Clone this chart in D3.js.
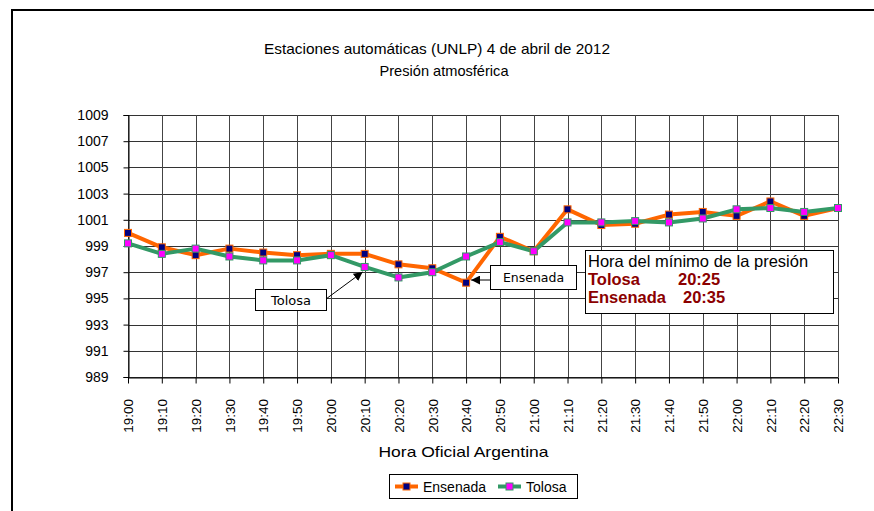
<!DOCTYPE html>
<html>
<head>
<meta charset="utf-8">
<script src="https://cdn.jsdelivr.net/npm/d3@7"></script>
<style>
body {margin:0; background:#fff;}
svg {display:block;}
text {font-family: "Liberation Sans", Arial, sans-serif;}
</style>
</head>
<body>
<div id="chart"></div>
<script>
var horas = ['19:00','19:10','19:20','19:30','19:40','19:50','20:00','20:10','20:20','20:30','20:40','20:50',
             '21:00','21:10','21:20','21:30','21:40','21:50','22:00','22:10','22:20','22:30'];
var ensenada = [1000.0, 998.9, 998.3, 998.8, 998.5, 998.3, 998.4, 998.4, 997.6, 997.3, 996.2, 999.7,
                998.6, 1001.8, 1000.6, 1000.7, 1001.4, 1001.6, 1001.3, 1002.4, 1001.3, 1001.9];
var tolosa = [999.2, 998.4, 998.8, 998.2, 997.9, 997.9, 998.3, 997.4, 996.6, 997.0, 998.2, 999.3,
              998.6, 1000.8, 1000.8, 1000.9, 1000.8, 1001.1, 1001.8, 1001.9, 1001.6, 1001.9];
var yTicks = [989, 991, 993, 995, 997, 999, 1001, 1003, 1005, 1007, 1009];

var W = 874, H = 511;
var svg = d3.select('#chart').append('svg').attr('width', W).attr('height', H);

// outer frame (cut off at right and bottom)
svg.append('rect')
    .attr('x', 12).attr('y', 10).attr('width', 880).attr('height', 520)
    .attr('fill', 'none').attr('stroke', '#000').attr('stroke-width', 2);

var x = d3.scalePoint().domain(horas).range([128, 838]);
var y = d3.scaleLinear().domain([989, 1009]).range([377, 115]);

// titles
svg.append('text').attr('x', 437).attr('y', 54).attr('text-anchor', 'middle')
    .style('font-size', '14.5px').attr('textLength', 346).attr('lengthAdjust', 'spacingAndGlyphs')
    .text('Estaciones automáticas (UNLP) 4 de abril de 2012');
svg.append('text').attr('x', 444).attr('y', 76).attr('text-anchor', 'middle')
    .style('font-size', '14.5px').attr('textLength', 129).attr('lengthAdjust', 'spacingAndGlyphs')
    .text('Presión atmosférica');

// grid
var grid = svg.append('g');
grid.selectAll('line.h').data(yTicks).enter().append('line')
    .attr('x1', 128).attr('x2', 838)
    .attr('y1', function(d) {return Math.round(y(d)) + 0.5;})
    .attr('y2', function(d) {return Math.round(y(d)) + 0.5;})
    .attr('stroke', '#333').attr('stroke-width', 1);
grid.selectAll('line.v').data(horas).enter().append('line')
    .attr('x1', function(d) {return Math.round(x(d)) + 0.5;})
    .attr('x2', function(d) {return Math.round(x(d)) + 0.5;})
    .attr('y1', 115).attr('y2', 377)
    .attr('stroke', '#444').attr('stroke-width', 1);

// axes
var yAxis = svg.append('g').attr('transform', 'translate(128.5,0)')
    .call(d3.axisLeft(y).tickValues(yTicks).tickSize(5).tickPadding(15).tickFormat(d3.format('d')));
var xAxis = svg.append('g').attr('transform', 'translate(0,377.5)')
    .call(d3.axisBottom(x).tickSize(6).tickSizeOuter(0));
[yAxis, xAxis].forEach(function(a) {
    a.select('.domain').attr('stroke', '#000');
    a.selectAll('.tick line').attr('stroke', '#000');
});
yAxis.selectAll('text').style('font-size', '14px').attr('fill', '#000')
    .style('font-family', '"Liberation Sans", Arial, sans-serif');
xAxis.selectAll('text').style('font-size', '13.5px').attr('fill', '#000')
    .style('font-family', '"Liberation Sans", Arial, sans-serif')
    .attr('text-anchor', 'end').attr('dy', '0.35em')
    .attr('transform', 'translate(0,21.5) rotate(-90)')
    .attr('x', 0).attr('y', 0);

svg.append('text').attr('x', 463.5).attr('y', 457).attr('text-anchor', 'middle')
    .style('font-size', '15px').attr('textLength', 170).attr('lengthAdjust', 'spacingAndGlyphs')
    .text('Hora Oficial Argentina');

// series
var series = [
    {name: 'Ensenada', values: ensenada, line: '#FF6600', marker: '#000080'},
    {name: 'Tolosa', values: tolosa, line: '#339966', marker: '#FF00FF'}
];
var lineGen = d3.line().x(function(d, i) {return x(horas[i]);}).y(function(d) {return y(d);});

series.forEach(function(s) {
    svg.append('path').datum(s.values)
        .attr('d', lineGen).attr('fill', 'none')
        .attr('stroke', s.line).attr('stroke-width', 4).attr('stroke-linejoin', 'round');
});
series.forEach(function(s) {
    svg.append('g').selectAll('rect').data(s.values).enter().append('rect')
        .attr('x', function(d, i) {return x(horas[i]) - 3.5;})
        .attr('y', function(d) {return y(d) - 3.5;})
        .attr('width', 7).attr('height', 7)
        .attr('fill', s.marker).attr('stroke', s.line).attr('stroke-width', 1);
});

// arrow marker
svg.append('defs').append('marker')
    .attr('id', 'arrow').attr('viewBox', '0 0 10 10')
    .attr('refX', 10).attr('refY', 5)
    .attr('markerWidth', 9).attr('markerHeight', 9)
    .attr('markerUnits', 'userSpaceOnUse')
    .attr('orient', 'auto')
    .append('path').attr('d', 'M0,0 L10,5 L0,10 Z').attr('fill', '#000');

// Tolosa callout
svg.append('line')
    .attr('x1', 326).attr('y1', 299)
    .attr('x2', x('20:10') - 2).attr('y2', y(997.4) + 5)
    .attr('stroke', '#000').attr('stroke-width', 1).attr('marker-end', 'url(#arrow)');
svg.append('rect').attr('x', 255.5).attr('y', 289.5).attr('width', 71).attr('height', 21)
    .attr('fill', '#fff').attr('stroke', '#000');
svg.append('text').attr('x', 291).attr('y', 304.5).attr('text-anchor', 'middle')
    .style('font-family', '"DejaVu Sans", Verdana, sans-serif').style('font-size', '13px')
    .text('Tolosa');

// Ensenada callout
svg.append('line')
    .attr('x1', 490).attr('y1', 280)
    .attr('x2', x('20:40') + 5).attr('y2', 280)
    .attr('stroke', '#000').attr('stroke-width', 1).attr('marker-end', 'url(#arrow)');
svg.append('rect').attr('x', 490.5).attr('y', 265.5).attr('width', 86).attr('height', 24)
    .attr('fill', '#fff').attr('stroke', '#000');
svg.append('text').attr('x', 533.5).attr('y', 282).attr('text-anchor', 'middle')
    .style('font-family', '"DejaVu Sans", Verdana, sans-serif').style('font-size', '12.5px')
    .text('Ensenada');

// info box
svg.append('rect').attr('x', 585.5).attr('y', 250.5).attr('width', 248).attr('height', 63)
    .attr('fill', '#fff').attr('stroke', '#000');
var info = svg.append('g').style('font-family', '"DejaVu Sans", Verdana, sans-serif').style('font-size', '16.5px');
info.append('text').attr('x', 588).attr('y', 267).attr('fill', '#000').text('Hora del mínimo de la presión');
info.append('text').attr('x', 588).attr('y', 285).attr('fill', '#8B0000').style('font-weight', 'bold').text('Tolosa');
info.append('text').attr('x', 678).attr('y', 285).attr('fill', '#8B0000').style('font-weight', 'bold').text('20:25');
info.append('text').attr('x', 588).attr('y', 303).attr('fill', '#8B0000').style('font-weight', 'bold').text('Ensenada');
info.append('text').attr('x', 683).attr('y', 303).attr('fill', '#8B0000').style('font-weight', 'bold').text('20:35');

// legend
var leg = svg.append('g');
leg.append('rect').attr('x', 389.5).attr('y', 474.5).attr('width', 188).attr('height', 24)
    .attr('fill', '#fff').attr('stroke', '#000');
var legX = [395, 498];
series.forEach(function(s, i) {
    var g = leg.append('g').attr('transform', 'translate(' + legX[i] + ',486.5)');
    g.append('line').attr('x1', 0).attr('x2', 23).attr('y1', 0).attr('y2', 0)
        .attr('stroke', s.line).attr('stroke-width', 4);
    g.append('rect').attr('x', 8).attr('y', -3.5).attr('width', 7).attr('height', 7)
        .attr('fill', s.marker).attr('stroke', s.line);
    g.append('text').attr('x', 28).attr('y', 5).style('font-size', '14px').text(s.name);
});
</script>
</body>
</html>
